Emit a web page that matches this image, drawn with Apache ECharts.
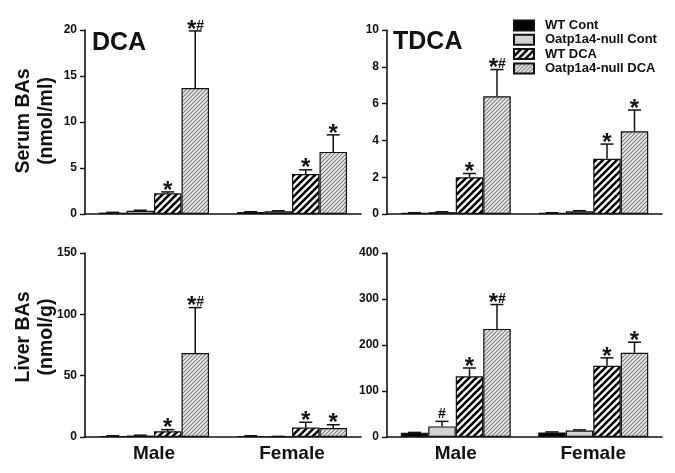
<!DOCTYPE html>
<html><head><meta charset="utf-8">
<script src="https://cdn.jsdelivr.net/npm/echarts@6/dist/echarts.min.js"></script>
<style>html,body{margin:0;padding:0;background:#fff}#c{width:675px;height:473px}</style>
</head><body><div id="c"></div>
<script>
const categories = ['Male', 'Female'];
const seriesNames = ['WT Cont', 'Oatp1a4-null Cont', 'WT DCA', 'Oatp1a4-null DCA'];
const panelTitles = ['DCA', 'TDCA', '', ''];
const yTicksMax = [20, 10, 150, 400];
const yTicksStep = [5, 2, 50, 100];

// Serum DCA (nmol/ml): rows = series, cols = [Male, Female]
const serumDCAMean = [[0.15, 0.22], [0.35, 0.30], [2.25, 4.35], [13.7, 6.75]];
const serumDCAErr  = [[0.03, 0.03], [0.06, 0.05], [0.15, 0.45], [6.2, 1.85]];
const serumDCAMarks = [['', ''], ['', ''], ['*', '*'], ['*#', '*']];
// Serum TDCA (nmol/ml)
const serumTDCAMean = [[0.06, 0.06], [0.10, 0.15], [2.0, 3.0], [6.4, 4.5]];
const serumTDCAErr  = [[0.01, 0.01], [0.02, 0.03], [0.2, 0.8], [1.45, 1.15]];
const serumTDCAMarks = [['', ''], ['', ''], ['*', '*'], ['*#', '*']];
// Liver DCA (nmol/g)
const liverDCAMean = [[0.8, 0.8], [1.2, 0.4], [4.6, 7.8], [68.5, 7.3]];
const liverDCAErr  = [[0.2, 0.2], [0.3, 0.1], [1.4, 4.2], [37, 2.7]];
const liverDCAMarks = [['', ''], ['', ''], ['*', '*'], ['*#', '*']];
// Liver TDCA (nmol/g)
const liverTDCAMean = [[9, 10], [23, 14], [132, 155], [235, 183]];
const liverTDCAErr  = [[1, 1], [11, 1.5], [18, 17], [53, 23]];
const liverTDCAMarks = [['', ''], ['#', ''], ['*', '*'], ['*#', '*']];

const panelMeans = [serumDCAMean, serumTDCAMean, liverDCAMean, liverTDCAMean];
const panelErrs = [serumDCAErr, serumTDCAErr, liverDCAErr, liverTDCAErr];
const panelMarks = [serumDCAMarks, serumTDCAMarks, liverDCAMarks, liverTDCAMarks];

function stripeCanvas(size, bg, fg, lw) {
  const c = document.createElement('canvas');
  c.width = size; c.height = size;
  const ctx = c.getContext('2d');
  ctx.fillStyle = bg; ctx.fillRect(0, 0, size, size);
  ctx.strokeStyle = fg; ctx.lineWidth = lw;
  for (let k = -1; k <= 1; k++) {
    ctx.beginPath();
    ctx.moveTo(k * size - 2, size + 2);
    ctx.lineTo(k * size + size + 2, -2);
    ctx.stroke();
  }
  return c;
}
const fills = [
  '#000000',
  '#d2d2d2',
  { image: stripeCanvas(7, '#ffffff', '#000000', 2.6), repeat: 'repeat' },
  { image: stripeCanvas(4, '#ececec', '#7a7a7a', 1.1), repeat: 'repeat' }
];

const FONT = 'Arial, "Liberation Sans", sans-serif';
const grids = [
  { left: 85, top: 30, width: 276, height: 184 },
  { left: 387, top: 30, width: 275, height: 184 },
  { left: 85, top: 253, width: 276, height: 184 },
  { left: 387, top: 253, width: 275, height: 184 }
];
const BARW = 27.5;

const xAxes = [], yAxes = [], series = [];
for (let p = 0; p < 4; p++) {
  xAxes.push({
    type: 'category', gridIndex: p, data: categories,
    axisLine: { lineStyle: { color: '#111', width: 1.6 } },
    axisTick: { show: false },
    axisLabel: { show: p >= 2, fontFamily: FONT, fontWeight: 'bold', fontSize: 19, color: '#111', margin: 7 }
  });
  yAxes.push({
    type: 'value', gridIndex: p, min: 0, max: yTicksMax[p], interval: yTicksStep[p],
    axisLine: { show: true, lineStyle: { color: '#111', width: 1.6 } },
    axisTick: { show: true, length: 5, lineStyle: { color: '#111', width: 1.4 } },
    splitLine: { show: false },
    axisLabel: { fontFamily: FONT, fontWeight: 'bold', fontSize: 12, color: '#111', margin: 8 }
  });
  for (let s = 0; s < 4; s++) {
    series.push({
      type: 'bar', name: seriesNames[s], xAxisIndex: p, yAxisIndex: p,
      barWidth: BARW, barGap: '0%',
      data: panelMeans[p][s],
      itemStyle: { color: fills[s], borderColor: '#111', borderWidth: 1.2 },
      emphasis: { disabled: true },
      z: 2
    });
  }
  const errData = [];
  for (let s = 0; s < 4; s++) for (let c = 0; c < 2; c++)
    errData.push([c, s, panelMeans[p][s][c], panelErrs[p][s][c]]);
  const marks = panelMarks[p];
  series.push({
    type: 'custom', xAxisIndex: p, yAxisIndex: p, data: errData, z: 5, silent: true,
    clip: false,
    renderItem: function (params, api) {
      const c = api.value(0), s = api.value(1), v = api.value(2), e = api.value(3);
      const base = api.coord([c, v]);
      const top = api.coord([c, v + e]);
      const x = base[0] + (s - 1.5) * BARW;
      const ch = [];
      ch.push({ type: 'line', shape: { x1: x, y1: base[1], x2: x, y2: top[1] }, style: { stroke: '#111', lineWidth: 1.5 } });
      ch.push({ type: 'line', shape: { x1: x - 6.5, y1: top[1], x2: x + 6.5, y2: top[1] }, style: { stroke: '#111', lineWidth: 1.5 } });
      const m = marks[s][c];
      if (m) {
        const hasStar = m.indexOf('*') >= 0, hasHash = m.indexOf('#') >= 0;
        const both = hasStar && hasHash;
        if (hasStar) ch.push({ type: 'text', style: { text: '*', x: both ? x - 3.5 : x, y: top[1] - 1, align: 'center', verticalAlign: 'middle', font: 'bold 24px ' + FONT, fill: '#111' } });
        if (hasHash) ch.push({ type: 'text', style: { text: '#', x: both ? x + 5 : x, y: top[1] - (both ? 5 : 7), align: 'center', verticalAlign: 'middle', font: 'bold 14px ' + FONT, fill: '#111' } });
      }
      return { type: 'group', children: ch };
    }
  });
}

const graphic = [
  { type: 'text', left: 92, top: 31, style: { text: panelTitles[0], font: 'bold 25px ' + FONT, fill: '#111' } },
  { type: 'text', left: 393, top: 30, style: { text: panelTitles[1], font: 'bold 25px ' + FONT, fill: '#111' } },
  { type: 'text', x: 24, y: 121, rotation: Math.PI / 2, style: { text: 'Serum BAs', font: 'bold 19.5px ' + FONT, fill: '#111', align: 'center', verticalAlign: 'middle' } },
  { type: 'text', x: 47, y: 121, rotation: Math.PI / 2, style: { text: '(nmol/ml)', font: 'bold 19.5px ' + FONT, fill: '#111', align: 'center', verticalAlign: 'middle' } },
  { type: 'text', x: 24, y: 337, rotation: Math.PI / 2, style: { text: 'Liver BAs', font: 'bold 19.5px ' + FONT, fill: '#111', align: 'center', verticalAlign: 'middle' } },
  { type: 'text', x: 47, y: 337, rotation: Math.PI / 2, style: { text: '(nmol/g)', font: 'bold 19.5px ' + FONT, fill: '#111', align: 'center', verticalAlign: 'middle' } }
];

const chart = echarts.init(document.getElementById('c'), null, { renderer: 'canvas' });
chart.setOption({
  animation: false,
  backgroundColor: '#fff',
  grid: grids,
  xAxis: xAxes,
  yAxis: yAxes,
  series: series,
  graphic: graphic,
  legend: {
    data: seriesNames, orient: 'vertical', left: 513, top: 19, padding: 0,
    itemWidth: 20, itemHeight: 10, itemGap: 1.3,
    icon: 'rect',
    selectedMode: false,
    textStyle: { fontFamily: FONT, fontWeight: 'bold', fontSize: 13, color: '#111', lineHeight: 13, padding: [0, 0, 0, 6] }
  }
});
</script></body></html>
